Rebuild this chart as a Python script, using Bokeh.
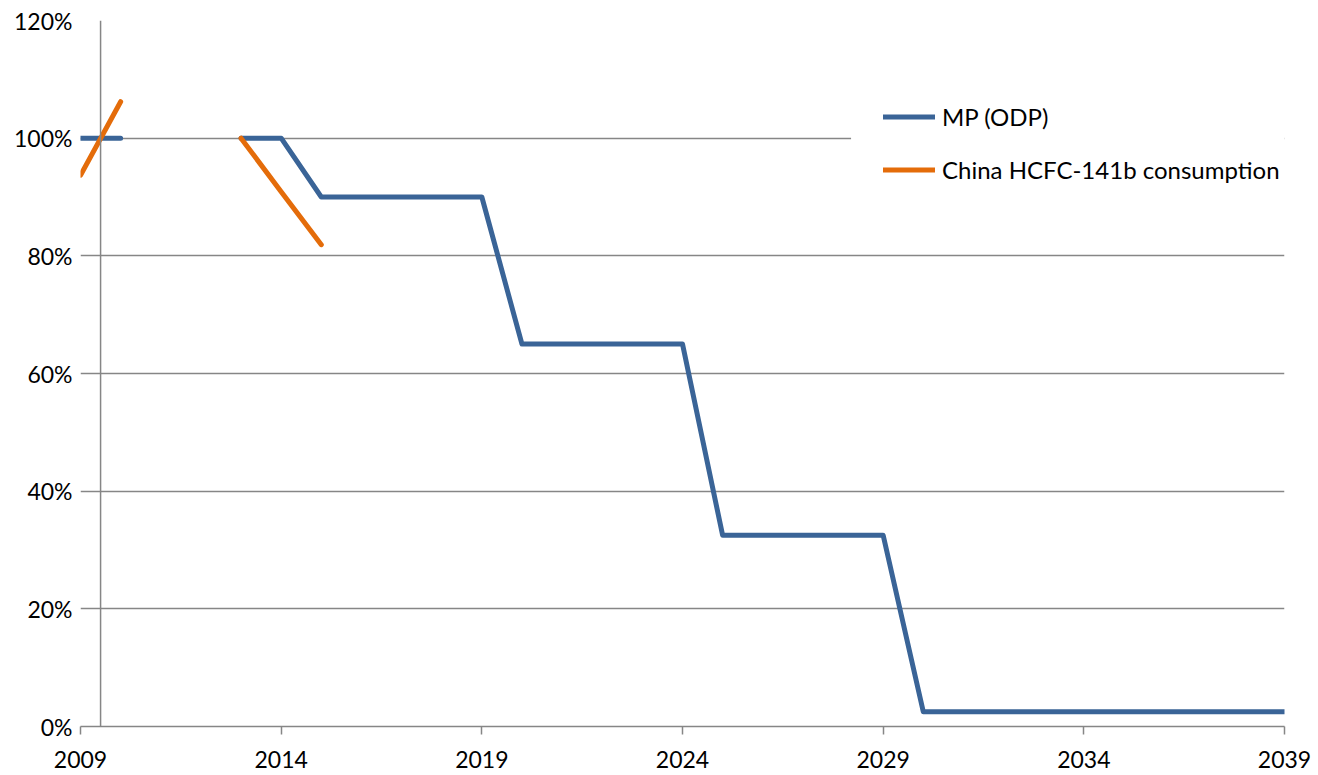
from bokeh.plotting import figure
from bokeh.models import Span, FixedTicker, Legend, LegendItem, ColumnDataSource, BoxAnnotation
from bokeh.embed import file_html
from bokeh.resources import INLINE

nan = float("nan")

years = list(range(2009, 2040))
mp_odp = [100, 100, nan, nan, 100, 100, 90, 90, 90, 90, 90,
          65, 65, 65, 65, 65, 32.5, 32.5, 32.5, 32.5, 32.5,
          2.5, 2.5, 2.5, 2.5, 2.5, 2.5, 2.5, 2.5, 2.5, 2.5]
china_141b = [93.7, 106.2, nan, nan, 100, 90.9, 81.9] + [nan] * 24

x_ticks = [2009, 2014, 2019, 2024, 2029, 2034, 2039]
y_ticks = [0, 20, 40, 60, 80, 100, 120]
y_tick_labels = {v: f"{v}%" for v in y_ticks}

FONT = "Lato"
FS = "23px"
GRID = "#868686"
BLUE = "#3A6497"
ORANGE = "#E46C0A"

p = figure(width=1315, height=775, output_backend="svg", toolbar_location=None,
           x_range=(2009, 2039), y_range=(0, 120),
           min_border_left=80, min_border_top=20, min_border_right=31, min_border_bottom=49)
p.outline_line_color = None
p.background_fill_color = "white"

src = ColumnDataSource(dict(x=years, mp=mp_odp, cn=china_141b))
r1 = p.line("x", "mp", source=src, line_color=BLUE, line_width=5, line_cap="round", line_join="round")
r2 = p.line("x", "cn", source=src, line_color=ORANGE, line_width=5, line_cap="round", line_join="round")

# axes
p.xaxis.ticker = FixedTicker(ticks=x_ticks)
p.xaxis.minor_tick_line_color = None
p.xaxis.major_tick_in = 0
p.xaxis.major_tick_out = 8
p.xaxis.major_tick_line_color = GRID
p.xaxis.major_tick_line_width = 1.5
p.xaxis.axis_line_color = GRID
p.xaxis.axis_line_width = 1.5
p.xaxis.major_label_text_font = FONT
p.xaxis.major_label_text_font_size = FS
p.xaxis.major_label_text_line_height = 1.0
p.xaxis.major_label_text_color = "black"
p.xaxis.major_label_standoff = 16

p.yaxis.ticker = FixedTicker(ticks=y_ticks)
p.yaxis.major_label_overrides = y_tick_labels
p.yaxis.minor_tick_line_color = None
p.yaxis.major_tick_line_color = None
p.yaxis.axis_line_color = None
p.yaxis.major_label_text_font = FONT
p.yaxis.major_label_text_font_size = FS
p.yaxis.major_label_text_color = "black"
p.yaxis.major_label_standoff = 2

p.xgrid.grid_line_color = None
p.ygrid.ticker = FixedTicker(ticks=y_ticks)
p.ygrid.grid_line_color = GRID
p.ygrid.grid_line_width = 1.5

vline = Span(location=2009.5, dimension="height", line_color=GRID, line_width=1.5)
p.add_layout(vline)

# white area behind the legend (hides the gridline there)
p.add_layout(BoxAnnotation(left=2028.2, right=2039, bottom=97, top=103,
                           fill_color="white", fill_alpha=1.0, line_color=None))

legend = Legend(items=[LegendItem(label="MP (ODP)", renderers=[r1]),
                       LegendItem(label="China HCFC-141b consumption", renderers=[r2])],
                location=(803, 530))
legend.padding = 32
legend.margin = 0
legend.spacing = 0
legend.glyph_width = 52
legend.glyph_height = 53
legend.label_height = 53
legend.label_standoff = 7
legend.label_text_font = FONT
legend.label_text_font_size = "24px"
legend.label_text_color = "black"
legend.border_line_color = None
legend.background_fill_color = "white"
legend.background_fill_alpha = 1.0
p.add_layout(legend)

open("out.html", "w").write(file_html(p, INLINE))
